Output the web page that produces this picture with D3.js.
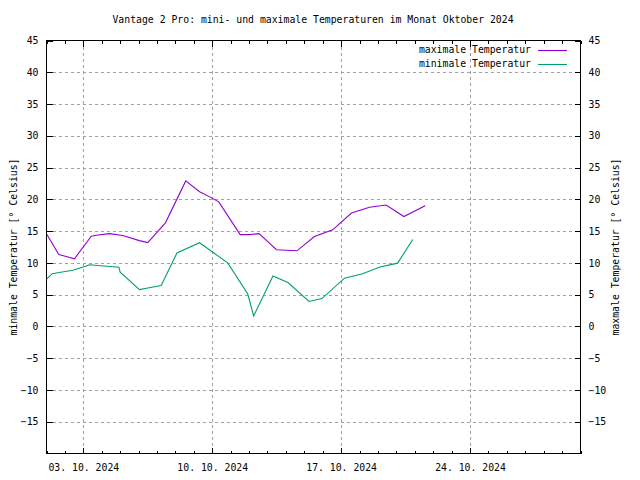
<!DOCTYPE html>
<html><head><meta charset="utf-8">
<script src="https://cdn.jsdelivr.net/npm/d3@7"></script>
<style>
html,body{margin:0;padding:0;background:#fff;}
text{font-family:"DejaVu Sans Mono","Liberation Mono",monospace;font-size:9.8px;fill:#000;}
</style></head>
<body>
<svg id="c" width="640" height="480"></svg>
<script>
const title = "Vantage 2 Pro: mini- und maximale Temperaturen im Monat Oktober 2024";
const seriesNames = ["maximale Temperatur", "minimale Temperatur"];
const leftLabel = "minmale Temperatur [° Celsius]";
const rightLabel = "maxmale Temperatur [° Celsius]";
const yTicks = [-15,-10,-5,0,5,10,15,20,25,30,35,40,45];
const xTickDates = ["2024-10-03","2024-10-10","2024-10-17","2024-10-24"];

const maxTimes = ["2024-10-01T00:00","2024-10-01T16:00","2024-10-02T01:40","2024-10-02T12:30","2024-10-03T10:20","2024-10-03T19:00","2024-10-04T10:00","2024-10-05T03:30","2024-10-06T01:00","2024-10-06T12:00","2024-10-07T11:00","2024-10-08T13:30","2024-10-09T07:30","2024-10-09T21:20","2024-10-10T08:30","2024-10-11T12:30","2024-10-12T00:00","2024-10-12T13:00","2024-10-13T11:45","2024-10-14T14:30","2024-10-15T13:10","2024-10-16T13:00","2024-10-17T13:30","2024-10-18T13:00","2024-10-19T10:40","2024-10-20T09:50","2024-10-21T13:30"];
const maxValues = [14.6,11.3,11.0,10.65,14.2,14.4,14.6,14.3,13.5,13.2,16.3,22.9,21.2,20.35,19.6,14.45,14.45,14.6,12.07,11.9,14.16,15.2,17.85,18.75,19.1,17.3,19.0];

const minTimes = ["2024-10-01T00:00","2024-10-01T07:30","2024-10-01T14:40","2024-10-02T10:15","2024-10-03T03:50","2024-10-03T08:00","2024-10-03T19:00","2024-10-04T22:20","2024-10-05T00:00","2024-10-06T01:10","2024-10-06T12:00","2024-10-07T05:30","2024-10-08T02:00","2024-10-09T07:30","2024-10-10T20:10","2024-10-11T22:20","2024-10-12T06:00","2024-10-13T07:10","2024-10-14T02:40","2024-10-15T06:15","2024-10-15T23:00","2024-10-17T04:20","2024-10-18T04:00","2024-10-19T02:30","2024-10-20T01:40","2024-10-20T21:20"];
const minValues = [7.45,8.3,8.45,8.85,9.5,9.7,9.6,9.33,8.55,5.8,6.05,6.45,11.55,13.17,10.0,5.1,1.65,7.95,6.9,3.93,4.38,7.6,8.29,9.35,9.96,13.69];

const colors = ["#9400d3","#009e73"];
const parse = d3.timeParse("%Y-%m-%dT%H:%M");
const parseDay = d3.timeParse("%Y-%m-%d");

const L=46.5, R=580.5, T=40.5, B=453.5;
const svg = d3.select("#c");
const x = d3.scaleTime().domain([parseDay("2024-10-01"), parseDay("2024-10-30")]).range([L,R]);
const y = d3.scaleLinear().domain([-20,45]).range([B,T]);

// grid
const g = svg.append("g").attr("shape-rendering","crispEdges");
g.selectAll(".hg").data(yTicks.filter(v=>v<45)).enter().append("line")
 .attr("x1",L).attr("x2",R).attr("y1",d=>Math.round(y(d))+0.5).attr("y2",d=>Math.round(y(d))+0.5)
 .attr("stroke","#a0a0a0").attr("stroke-dasharray","3,3");
g.selectAll(".vg").data(xTickDates.map(parseDay)).enter().append("line")
 .attr("y1",T).attr("y2",B).attr("x1",d=>Math.round(x(d))+0.5).attr("x2",d=>Math.round(x(d))+0.5)
 .attr("stroke","#a0a0a0").attr("stroke-dasharray","3,3");

// axes
const yl = d3.axisLeft(y).tickValues(yTicks).tickSizeInner(-6).tickSizeOuter(0).tickPadding(8);
const yr = d3.axisRight(y).tickValues(yTicks).tickSizeInner(-6).tickSizeOuter(0).tickPadding(8);
const days = d3.timeDay.range(parseDay("2024-10-01"), parseDay("2024-10-31"));
const xb = d3.axisBottom(x).tickValues(xTickDates.map(parseDay)).tickFormat(d3.timeFormat("%d. %m. %Y")).tickSizeInner(-6).tickSizeOuter(0).tickPadding(11);
const xbm = d3.axisBottom(x).tickValues(days).tickFormat("").tickSizeInner(-3).tickSizeOuter(0);
const xt = d3.axisTop(x).tickValues(xTickDates.map(parseDay)).tickFormat("").tickSizeInner(-6).tickSizeOuter(0);
const xtm = d3.axisTop(x).tickValues(days).tickFormat("").tickSizeInner(-3).tickSizeOuter(0);

function style(sel){ sel.select(".domain").remove(); sel.selectAll("line").attr("stroke","#000"); sel.selectAll("text").attr("fill","#000").style("font-family",null).style("font-size",null); sel.attr("font-family",null).attr("font-size",null); }
svg.append("g").attr("transform",`translate(${L},0)`).attr("shape-rendering","crispEdges").call(yl).call(style);
svg.append("g").attr("transform",`translate(${R},0)`).attr("shape-rendering","crispEdges").call(yr).call(style);
svg.append("g").attr("transform",`translate(0,${B})`).attr("shape-rendering","crispEdges").call(xb).call(style);
svg.append("g").attr("transform",`translate(0,${B})`).attr("shape-rendering","crispEdges").call(xbm).call(style);
svg.append("g").attr("transform",`translate(0,${T})`).attr("shape-rendering","crispEdges").call(xt).call(style);
svg.append("g").attr("transform",`translate(0,${T})`).attr("shape-rendering","crispEdges").call(xtm).call(style);

// frame
svg.append("rect").attr("x",L).attr("y",T).attr("width",R-L).attr("height",B-T)
 .attr("fill","none").attr("stroke","#000").attr("shape-rendering","crispEdges");

// lines
const line = d3.line().x(d=>x(d[0])).y(d=>y(d[1]));
const clip = svg.append("clipPath").attr("id","cp").append("rect").attr("x",L).attr("y",T).attr("width",R-L).attr("height",B-T);
const series = [maxTimes.map((t,i)=>[parse(t),maxValues[i]]), minTimes.map((t,i)=>[parse(t),minValues[i]])];
series.forEach((s,i)=>{
  svg.append("path").datum(s).attr("d",line).attr("fill","none").attr("stroke",colors[i]).attr("stroke-width",1.1).attr("clip-path","url(#cp)");
});

// legend
seriesNames.forEach((n,i)=>{
  const ly = 50 + i*14;
  svg.append("text").attr("x",531).attr("y",ly).attr("dy","0.35em").attr("text-anchor","end").text(n);
  svg.append("line").attr("x1",538).attr("x2",567).attr("y1",ly+0.5).attr("y2",ly+0.5).attr("stroke",colors[i]).attr("stroke-width",1.1);
});

// titles
svg.append("text").attr("x",313).attr("y",20).attr("dy","0.35em").attr("text-anchor","middle").text(title);
svg.append("text").attr("transform",`translate(14,${(T+B)/2}) rotate(-90)`).attr("dy","0.35em").attr("text-anchor","middle").text(leftLabel);
svg.append("text").attr("transform",`translate(616,${(T+B)/2}) rotate(-90)`).attr("dy","0.35em").attr("text-anchor","middle").text(rightLabel);
</script>
</body></html>
